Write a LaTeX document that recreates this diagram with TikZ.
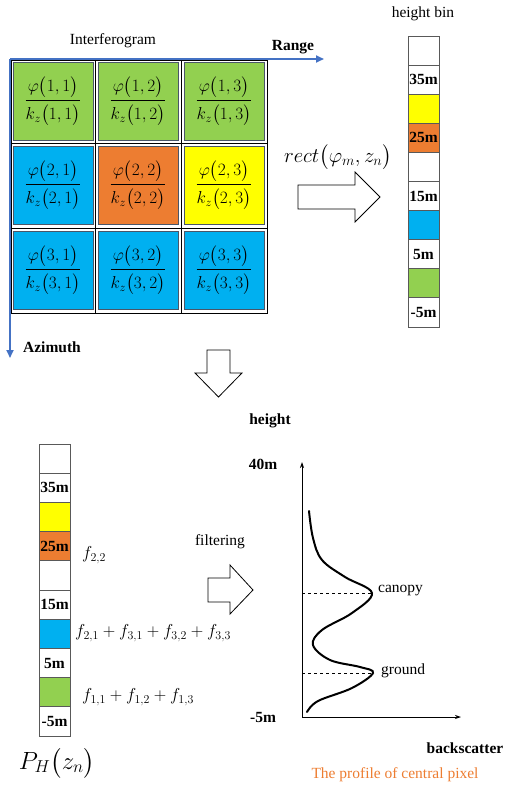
\documentclass[tikz,border=0pt]{standalone}
\usepackage{amsmath}
\usepackage{fontspec}
\setmainfont{Liberation Serif}
\usetikzlibrary{arrows.meta}
\definecolor{cgreen}{HTML}{92D050}
\definecolor{cblue}{HTML}{00B0F0}
\definecolor{corange}{HTML}{ED7D31}
\definecolor{cyellow}{HTML}{FFFF00}
\definecolor{axblue}{HTML}{4472C4}
\definecolor{cellline}{HTML}{4A5668}
\tikzset{
  cellbox/.style={draw=cellline, line width=0.8pt, minimum width=80pt, minimum height=78pt, inner sep=0pt, font=\fontsize{18}{20}\selectfont},
  binbox/.style={draw=black!65, line width=0.9pt, minimum width=31pt, minimum height=29.1pt, inner sep=0pt, font=\fontsize{15.5}{17}\selectfont\bfseries},
  axisline/.style={draw=axblue, line width=1.8pt, -{Triangle[length=8pt,width=7pt]}},
  chartaxis/.style={draw=black, line width=0.8pt, -{Stealth[length=6pt,width=4pt]}},
  hollow/.style={draw=black, line width=0.8pt, fill=white},
  lbl/.style={font=\fontsize{15.5}{17}\selectfont, inner sep=0pt},
  blbl/.style={font=\fontsize{15.5}{17}\selectfont\bfseries, inner sep=0pt},
  mlbl/.style={font=\fontsize{17}{19}\selectfont, inner sep=0pt}
}
\begin{document}
\begin{tikzpicture}[x=1pt,y=-1pt]
\useasboundingbox (0,0) rectangle (504,790);
% ---- interferogram grid
\foreach \r/\c/\cx/\cy/\col in {1/1/53/101.5/cgreen,1/2/138/101.5/cgreen,1/3/224/101.5/cgreen,
  2/1/53/185.5/cblue,2/2/138/185.5/corange,2/3/224/185.5/cyellow,
  3/1/53/270.5/cblue,3/2/138/270.5/cblue,3/3/224/270.5/cblue}{
  \node[cellbox, fill=\col] (c\r\c) at (\cx,\cy) {$\displaystyle\frac{\varphi\bigl(\r,\c\bigr)\rule[-3pt]{0pt}{1pt}}{\rule{0pt}{17pt}k_z\bigl(\r,\c\bigr)}$};
}
\draw[black, line width=1pt] (11,60) rectangle (267,313);
\draw[black, line width=1pt] (95,60) -- (95,313) (181,60) -- (181,313) (11,143) -- (267,143) (11,228) -- (267,228);
\coordinate (O) at (10,59);
\coordinate (R) at (324,59);
\coordinate (A) at (10,358);
\draw[axisline] (O) -- (R);
\draw[axisline] (O) -- (A);
\node[lbl] (interf) at (113,41) {Interferogram};
\node[blbl] (range) at (293,47) {Range};
\node[blbl] (azim) at (52,347) {Azimuth};
% ---- rect arrow
\node[font=\fontsize{21}{23}\selectfont, inner sep=0pt] (rect) at (338,157) {$rect\bigl(\varphi_m,z_n\bigr)$};
\draw[hollow] (298,185) -- (355,185) -- (355,172) -- (380,197) -- (355,222) -- (355,209) -- (298,209) -- cycle;
% ---- height bin column (top)
\node[lbl] (hbin) at (423,14) {height bin};
\foreach \i/\col/\t in {0/white/,1/white/35m,2/cyellow/,3/corange/25m,4/white/,5/white/15m,6/cblue/,7/white/5m,8/cgreen/,9/white/-5m}{
  \node[binbox, fill=\col] (hb\i) at (423.5, 36+14.55+\i*29.1) {\t};
}
% ---- down arrow
\draw[hollow] (207,350) -- (230,350) -- (230,373) -- (242,373) -- (218.5,397) -- (195,373) -- (207,373) -- cycle;
% ---- bottom column
\foreach \i/\col/\t in {0/white/,1/white/35m,2/cyellow/,3/corange/25m,4/white/,5/white/15m,6/cblue/,7/white/5m,8/cgreen/,9/white/-5m}{
  \node[binbox, fill=\col] (pb\i) at (54.5, 444+14.6+\i*29.2) {\t};
}
\node[mlbl, anchor=west] (f22) at (82,555) {$f_{2,2}$};
\node[mlbl, anchor=west] (fmid) at (75,633) {$f_{2,1}+f_{3,1}+f_{3,2}+f_{3,3}$};
\node[mlbl, anchor=west] (flow) at (82,697) {$f_{1,1}+f_{1,2}+f_{1,3}$};
\node[font=\fontsize{24}{26}\selectfont, inner sep=0pt] (ph) at (57,763) {$P_H\bigl(z_n\bigr)$};
% ---- filtering arrow
\node[lbl] (filt) at (220,542) {filtering};
\draw[hollow] (208,578) -- (230,578) -- (230,565) -- (253,590) -- (230,614) -- (230,602) -- (208,602) -- cycle;
% ---- chart
\coordinate (O2) at (302,717);
\coordinate (Ytop) at (302,462);
\coordinate (Xend) at (461,717);
\draw[chartaxis] (O2) -- (Ytop);
\draw[chartaxis] (O2) -- (Xend);
\node[blbl] (hgt) at (270,421) {height};
\node[blbl] (t40) at (263,464) {40m};
\node[blbl] (tm5) at (263,717) {-5m};
\node[blbl] (bsc) at (465,748) {backscatter};
\node[lbl, text=corange] (prof) at (395,775) {The profile of central pixel};
\coordinate (pk1) at (372,593);
\coordinate (pk2) at (373,673);
\coordinate (d1) at (302,593);
\coordinate (d2) at (302,673);
\draw[dashed, line width=0.6pt] (d1) -- (pk1);
\draw[dashed, line width=0.6pt] (d2) -- (pk2);
\draw[line width=2pt, line cap=round] plot[smooth, tension=0.6] coordinates {(309,511) (313,538) (322,560) (345,577) (372,593) (352,613) (322,630) (313,645) (330,660) (360,667) (373,673) (352,688) (318,701) (307,712)};
\node[lbl, anchor=west] (can) at (378,591) {canopy};
\node[lbl, anchor=west] (gnd) at (381,671) {ground};
\end{tikzpicture}
\end{document}
